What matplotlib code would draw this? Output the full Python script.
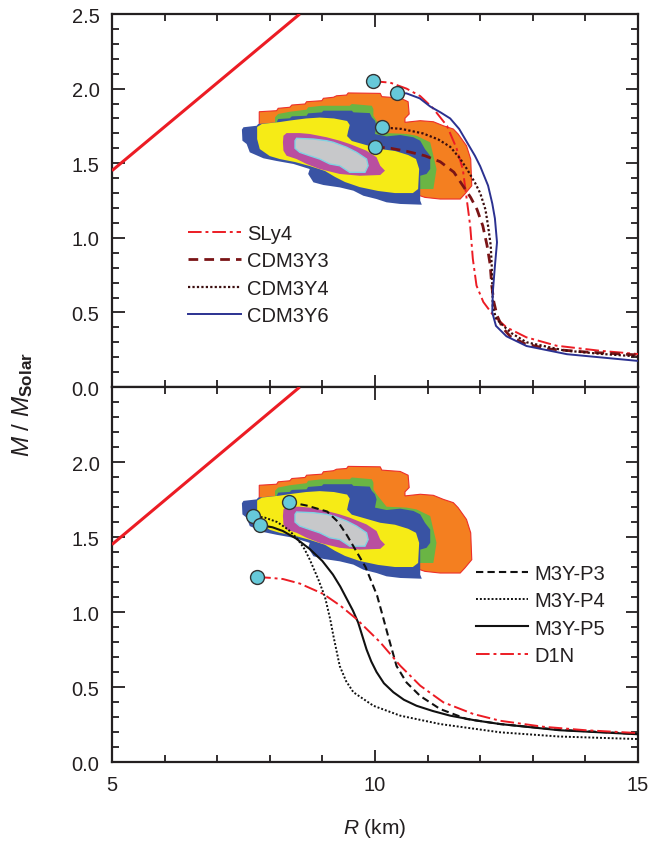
import matplotlib
matplotlib.use("Agg")
import matplotlib.pyplot as plt
from matplotlib.ticker import MultipleLocator, FixedLocator, FixedFormatter

plt.rcParams['font.family'] = ['Liberation Sans', 'DejaVu Sans']
plt.rcParams['mathtext.fontset'] = 'custom'
plt.rcParams['mathtext.rm'] = 'Liberation Sans'
plt.rcParams['mathtext.it'] = 'Liberation Sans:italic'
plt.rcParams['mathtext.bf'] = 'Liberation Sans:bold'

# ---------------- observational confidence regions (R [km], M [Msun]) ----------------
orange_R = [7.80, 7.80, 8.13, 8.16, 8.38, 8.42, 8.67, 8.70, 8.99, 9.02, 9.21, 9.27, 9.46, 9.49,
            10.10, 10.13, 10.48, 10.63, 10.65, 10.57, 10.57, 10.86, 11.11, 11.30, 11.49, 11.58,
            11.74, 11.82, 11.84, 11.71, 11.62, 11.24, 10.95, 10.48, 9.14]
orange_M = [1.684, 1.845, 1.852, 1.868, 1.875, 1.890, 1.897, 1.912, 1.919, 1.935, 1.942, 1.952, 1.957, 1.971,
            1.968, 1.946, 1.937, 1.912, 1.830, 1.801, 1.774, 1.785, 1.778, 1.751, 1.729, 1.696,
            1.617, 1.528, 1.349, 1.294, 1.260, 1.260, 1.271, 1.327, 1.461]

green_R = [8.10, 8.16, 8.38, 8.70, 8.73, 8.99, 9.52, 9.56, 9.94, 9.97, 9.97, 10.03, 10.22, 10.60,
           10.79, 11.05, 11.11, 11.17, 11.14, 11.11, 10.48, 9.52, 8.10]
green_M = [1.808, 1.830, 1.845, 1.859, 1.875, 1.885, 1.885, 1.897, 1.885, 1.863, 1.818, 1.785, 1.702, 1.696,
           1.684, 1.640, 1.550, 1.461, 1.394, 1.327, 1.327, 1.495, 1.760]

blue_R = [7.47, 7.50, 7.75, 7.78, 8.13, 8.16, 8.38, 8.42, 8.70, 8.73, 8.99, 9.02, 9.56, 9.59, 9.90,
          9.94, 10.00, 10.03, 10.00, 10.22, 10.48, 10.73, 10.86, 10.95, 11.05, 11.05, 10.98, 10.86,
          10.86, 10.89, 10.48, 10.22, 10.03, 9.78, 9.59, 9.33, 9.02, 8.83, 8.73, 8.76, 8.45, 8.13,
          7.88, 7.62, 7.56, 7.48]
blue_M = [1.725, 1.741, 1.751, 1.763, 1.774, 1.796, 1.801, 1.814, 1.818, 1.834, 1.841, 1.852, 1.852, 1.841, 1.836,
          1.808, 1.785, 1.751, 1.696, 1.680, 1.689, 1.674, 1.651, 1.595, 1.550, 1.461, 1.428, 1.416,
          1.249, 1.222, 1.227, 1.238, 1.260, 1.282, 1.316, 1.338, 1.354, 1.372, 1.428, 1.461, 1.495, 1.515,
          1.533, 1.573, 1.629, 1.651]

yellow_R = [7.76, 7.76, 7.85, 8.19, 8.38, 8.69, 8.95, 9.22, 9.47, 9.52, 9.49, 9.47, 9.56, 9.83, 10.10,
            10.38, 10.63, 10.78, 10.84, 10.82, 10.72, 10.38, 10.06, 9.71, 9.43, 9.24, 9.05, 8.76,
            8.48, 8.19, 8.00, 7.81]
yellow_M = [1.662, 1.743, 1.763, 1.776, 1.786, 1.800, 1.806, 1.800, 1.783, 1.756, 1.716, 1.682, 1.649, 1.622, 1.595,
            1.582, 1.555, 1.528, 1.461, 1.327, 1.300, 1.300, 1.314, 1.340, 1.374, 1.408, 1.448, 1.481,
            1.508, 1.528, 1.548, 1.595]

magenta_R = [8.26, 8.32, 8.57, 8.76, 9.08, 9.33, 9.52, 9.84, 10.03, 10.10, 10.19, 10.10, 9.71, 9.33,
             8.95, 8.70, 8.51, 8.32, 8.26, 8.25]
magenta_M = [1.684, 1.702, 1.702, 1.696, 1.674, 1.651, 1.629, 1.584, 1.540, 1.483, 1.450, 1.421, 1.416, 1.428,
             1.461, 1.495, 1.528, 1.550, 1.584, 1.640]

gray_R = [8.48, 8.51, 8.83, 9.08, 9.21, 9.46, 9.65, 9.84, 9.87, 9.81, 9.52, 9.33, 9.14, 8.95, 8.76, 8.57, 8.48]
gray_M = [1.651, 1.667, 1.662, 1.651, 1.640, 1.607, 1.573, 1.528, 1.483, 1.439, 1.439, 1.483, 1.495, 1.528,
          1.550, 1.573, 1.600]

# ---------------- causality limit line ----------------
caus_R = [5.0, 8.57]
caus_M = [1.45, 2.50]

# ---------------- top panel M-R curves ----------------
sly4_R = [9.96, 10.29, 10.60, 10.86, 11.10, 11.37, 11.55, 11.67, 11.71, 11.77, 11.81, 11.86, 11.93, 12.06,
          12.25, 12.50, 12.88, 13.45, 14.28, 15.0]
sly4_M = [2.05, 2.04, 2.00, 1.95, 1.87, 1.75, 1.60, 1.46, 1.35, 1.19, 1.08, 0.86, 0.68, 0.57,
          0.48, 0.40, 0.333, 0.277, 0.243, 0.221]

y3_R = [10.00, 10.30, 10.60, 10.95, 11.24, 11.50, 11.67, 11.82, 11.94, 12.05, 12.13, 12.19, 12.22, 12.26,
        12.32, 12.42, 12.57, 12.85, 13.30, 14.00, 15.0]
y3_M = [1.61, 1.60, 1.58, 1.55, 1.51, 1.44, 1.35, 1.27, 1.19, 1.08, 0.95, 0.82, 0.68, 0.57,
        0.48, 0.40, 0.34, 0.29, 0.255, 0.235, 0.215]

y4_R = [10.13, 10.50, 10.91, 11.20, 11.43, 11.62, 11.75, 11.90, 12.00, 12.10, 12.15, 12.20, 12.22, 12.24,
        12.30, 12.44, 12.60, 12.88, 13.60, 14.30, 15.0]
y4_M = [1.74, 1.73, 1.70, 1.66, 1.61, 1.53, 1.46, 1.37, 1.30, 1.19, 1.08, 0.95, 0.81, 0.54,
        0.46, 0.41, 0.36, 0.30, 0.245, 0.222, 0.205]

y6_R = [10.42, 10.60, 10.85, 11.05, 11.25, 11.43, 11.60, 11.75, 11.90, 12.00, 12.15, 12.23, 12.28, 12.32,
        12.30, 12.28, 12.24, 12.23, 12.30, 12.50, 12.88, 13.65, 14.40, 15.0]
y6_M = [1.97, 1.968, 1.935, 1.88, 1.84, 1.80, 1.73, 1.64, 1.55, 1.48, 1.35, 1.23, 1.13, 0.97,
        0.89, 0.81, 0.635, 0.50, 0.41, 0.34, 0.275, 0.22, 0.195, 0.175]

# ---------------- bottom panel M-R curves ----------------
p3_R = [8.37, 8.70, 9.09, 9.30, 9.47, 9.62, 9.82, 10.04, 10.15, 10.25, 10.41, 10.60, 10.86, 11.24,
        11.74, 12.38, 13.50, 15.0]
p3_M = [1.733, 1.71, 1.67, 1.60, 1.51, 1.42, 1.30, 1.11, 0.97, 0.84, 0.64, 0.53, 0.44, 0.353,
        0.287, 0.253, 0.215, 0.187]

p4_R = [7.68, 7.90, 8.14, 8.35, 8.52, 8.66, 8.76, 8.92, 9.05, 9.15, 9.21, 9.27, 9.33, 9.45, 9.59,
        9.97, 10.48, 11.24, 12.38, 13.50, 15.0]
p4_M = [1.64, 1.63, 1.60, 1.55, 1.49, 1.42, 1.35, 1.22, 1.10, 0.95, 0.84, 0.74, 0.64, 0.54, 0.465,
        0.375, 0.309, 0.253, 0.198, 0.170, 0.153]

p5_R = [7.81, 8.05, 8.25, 8.50, 8.76, 9.00, 9.20, 9.34, 9.46, 9.58, 9.68, 9.76, 9.84, 9.93, 10.03,
        10.17, 10.35, 10.55, 10.79, 11.10, 11.43, 11.90, 12.38, 13.50, 15.0]
p5_M = [1.58, 1.565, 1.54, 1.49, 1.42, 1.34, 1.25, 1.17, 1.09, 1.01, 0.93, 0.84, 0.75, 0.67, 0.60,
        0.525, 0.465, 0.415, 0.375, 0.340, 0.309, 0.278, 0.253, 0.212, 0.185]

d1n_R = [7.76, 8.00, 8.25, 8.57, 9.02, 9.35, 9.65, 10.10, 10.48, 10.86, 11.30, 11.87, 12.38, 13.20,
         14.00, 15.0]
d1n_M = [1.233, 1.228, 1.22, 1.19, 1.12, 1.04, 0.953, 0.798, 0.642, 0.509, 0.398, 0.32, 0.275, 0.235,
         0.212, 0.193]

top_labels = ['SLy4', 'CDM3Y3', 'CDM3Y4', 'CDM3Y6']
bot_labels = ['M3Y-P3', 'M3Y-P4', 'M3Y-P5', 'D1N']
ytick_vals = [0.0, 0.5, 1.0, 1.5, 2.0, 2.5]
ytick_top = ['0.0', '0.5', '1.0', '1.5', '2.0', '2.5']
ytick_bot = ['0.0', '0.5', '1.0', '1.5', '2.0', '']
xtick_vals = [5, 10, 15]
xtick_lbls = ['5', '10', '15']

# ---------------- styles ----------------
C_OR, C_GR, C_BL, C_YE, C_MA, C_GY = '#f47f20', '#6ab544', '#3953a4', '#f6eb16', '#b94fa0', '#c7c8ca'
C_RED = '#ec1c24'
DOT = '#66c9d9'
AX = '#231f20'
FS = 14.5

fig = plt.figure(figsize=(6.51, 8.53), dpi=100)
ax1 = fig.add_axes([0.172, 0.5451, 0.808, 0.4373])
ax2 = fig.add_axes([0.172, 0.1055, 0.808, 0.4396])


def regions(ax):
    ax.fill(orange_R, orange_M, facecolor=C_OR, edgecolor='#ed2f2a', lw=0.8, zorder=1)
    ax.fill(green_R, green_M, facecolor=C_GR, edgecolor='none', zorder=2)
    ax.fill(blue_R, blue_M, facecolor=C_BL, edgecolor='none', zorder=3)
    ax.fill(yellow_R, yellow_M, facecolor=C_YE, edgecolor='none', zorder=4)
    ax.fill(magenta_R, magenta_M, facecolor=C_MA, edgecolor='none', zorder=5)
    ax.fill(gray_R, gray_M, facecolor=C_GY, edgecolor='#7fd3e3', lw=1.0, zorder=6)
    ax.plot(caus_R, caus_M, color=C_RED, lw=2.2, zorder=7, solid_capstyle='butt')


def style(ax, ylabels, xlabels):
    ax.set_xlim(5, 15)
    ax.set_ylim(0, 2.5)
    ax.xaxis.set_major_locator(FixedLocator(xtick_vals))
    ax.xaxis.set_minor_locator(MultipleLocator(1))
    ax.yaxis.set_major_locator(FixedLocator(ytick_vals))
    ax.yaxis.set_major_formatter(FixedFormatter(ylabels))
    ax.yaxis.set_minor_locator(MultipleLocator(0.1))
    if xlabels:
        ax.xaxis.set_major_formatter(FixedFormatter(xtick_lbls))
    else:
        ax.tick_params(labelbottom=False)
    ax.tick_params(which='both', direction='in', top=True, right=True, color=AX,
                   labelsize=FS, labelcolor=AX, width=1.3)
    ax.tick_params(which='major', length=9, pad=9)
    ax.tick_params(which='minor', length=5)
    for s in ax.spines.values():
        s.set_linewidth(1.6)
        s.set_color(AX)


regions(ax1)
l1, = ax1.plot(sly4_R, sly4_M, color=C_RED, lw=1.4, dashes=(7, 2, 1.5, 2), zorder=8)
l2, = ax1.plot(y3_R, y3_M, color='#7a1416', lw=2.0, dashes=(3.5, 2.2), zorder=8)
l3, = ax1.plot(y4_R, y4_M, color='#3a0d0e', lw=1.6, dashes=(1.0, 1.0), zorder=8)
l4, = ax1.plot(y6_R, y6_M, color='#2b3190', lw=1.4, zorder=8)
for R0, M0 in [(sly4_R[0], sly4_M[0]), (y6_R[0], y6_M[0]), (y4_R[0], y4_M[0]), (y3_R[0], y3_M[0])]:
    ax1.plot([R0], [M0], 'o', ms=10, mfc=DOT, mec='#333333', mew=1.0, zorder=10)
style(ax1, ytick_top, False)
ax1.legend([l1, l2, l3, l4], top_labels, loc='upper left', bbox_to_anchor=(0.126, 0.465),
           frameon=False, fontsize=FS, handlelength=2.6, handletextpad=0.3,
           labelspacing=0.42, borderpad=0, labelcolor=AX)

regions(ax2)
m1, = ax2.plot(p3_R, p3_M, color='#111111', lw=1.5, dashes=(3.5, 2), zorder=8)
m2, = ax2.plot(p4_R, p4_M, color='#111111', lw=1.4, dashes=(1.0, 1.0), zorder=8)
m3, = ax2.plot(p5_R, p5_M, color='#111111', lw=1.5, zorder=8)
m4, = ax2.plot(d1n_R, d1n_M, color=C_RED, lw=1.4, dashes=(7, 2, 1.5, 2), zorder=8)
for R0, M0 in [(p3_R[0], p3_M[0]), (p4_R[0], p4_M[0]), (p5_R[0], p5_M[0]), (d1n_R[0], d1n_M[0])]:
    ax2.plot([R0], [M0], 'o', ms=10, mfc=DOT, mec='#333333', mew=1.0, zorder=10)
style(ax2, ytick_bot, True)
ax2.legend([m1, m2, m3, m4], bot_labels, loc='upper left', bbox_to_anchor=(0.673, 0.556),
           frameon=False, fontsize=FS, handlelength=2.6, handletextpad=0.3,
           labelspacing=0.42, borderpad=0, labelcolor=AX)

ax2.set_xlabel(r'$\it{R}$ (km)', fontsize=FS + 0.5, color=AX, labelpad=16)
fig.text(0.034, 0.526, r'$\it{M}$ / $\it{M}_{\bf{Solar}}$', rotation=90, fontsize=FS + 3,
         color=AX, ha='center', va='center')

fig.savefig('out.png', dpi=100)
